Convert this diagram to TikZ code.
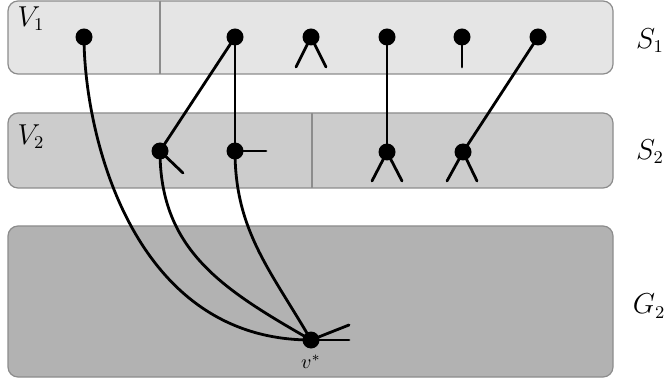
\documentclass[tikz,border=0pt]{standalone}
\begin{document}
\begin{tikzpicture}[x=0.5pt,y=-0.5pt,
  box/.style={draw=gray!90, line width=0.6pt, rounded corners=5pt},
  divider/.style={draw=gray!90, line width=1pt},
  edge/.style={line width=1.4pt, line cap=round},
  dot/.style={circle, fill=black, inner sep=0pt, minimum size=8.5pt},
  lab/.style={font=\fontsize{13.5}{15}\selectfont}]
\path[use as bounding box] (0,0) rectangle (667,384);
% boxes
\draw[box, fill=gray!20] (8,1) rectangle (613,74);
\draw[box, fill=gray!40] (8,113) rectangle (613,188);
\draw[box, fill=gray!60] (8,226) rectangle (613,377);
\draw[divider] (160,1) -- (160,74);
\draw[divider] (312,113) -- (312,188);
% labels
\node[lab] (V1) at (31,19) {$V_1$};
\node[lab] (V2) at (31,137) {$V_2$};
\node[lab] (S1) at (650,41) {$S_1$};
\node[lab] (S2) at (650,152) {$S_2$};
\node[lab] (G2) at (649,306) {$G_2$};
% vertex coordinates
\coordinate (a) at (84,37);
\coordinate (b) at (235,37);
\coordinate (c) at (311,37);
\coordinate (d) at (387,37);
\coordinate (e) at (462,37);
\coordinate (f) at (538,37);
\coordinate (h) at (160,151);
\coordinate (i) at (235,151);
\coordinate (j) at (387,152);
\coordinate (g) at (463,152);
\coordinate (vs) at (311,340);
% edges
\draw[edge] (b) -- (h);
\draw[edge] (b) -- (i);
\draw[edge] (d) -- (j);
\draw[edge] (f) -- (g);
\draw[edge] (a) .. controls (84,130) and (130,340) .. (vs);
\draw[edge] (h) .. controls (160,251) and (224,290) .. (vs);
\draw[edge] (i) .. controls (235,231) and (271,271) .. (vs);
% stubs
\draw[edge] (c) -- ++(-15,30);
\draw[edge] (c) -- ++(15,30);
\draw[edge] (e) -- ++(0,30);
\draw[edge] (h) -- ++(23,22);
\draw[edge] (i) -- ++(31,0);
\draw[edge] (j) -- ++(-15,29);
\draw[edge] (j) -- ++(15,29);
\draw[edge] (g) -- ++(-16,29);
\draw[edge] (g) -- ++(14,29);
\draw[edge] (vs) -- ++(38,-15);
\draw[edge] (vs) -- ++(38,0);
% dots
\foreach \p in {a,b,c,d,e,f,h,i,j,g,vs}
  \node[dot] (n\p) at (\p) {};
\node[font=\normalsize] (vslab) at (311,362) {$v^*$};
\end{tikzpicture}
\end{document}
